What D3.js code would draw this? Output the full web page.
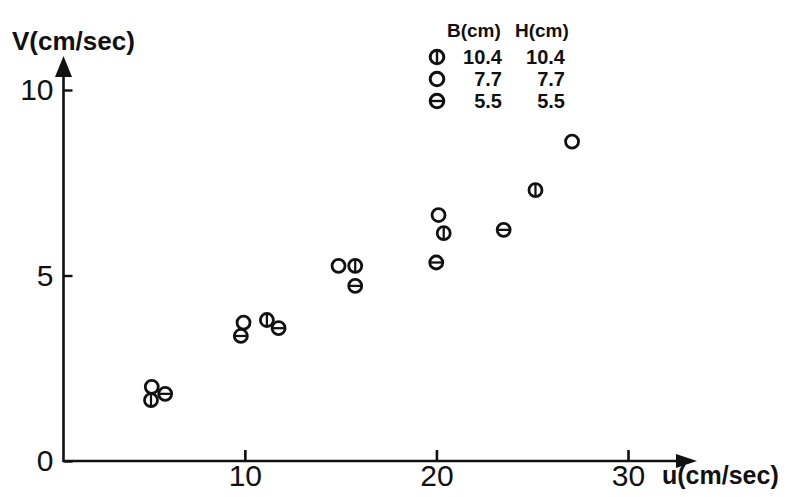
<!DOCTYPE html>
<html><head><meta charset="utf-8">
<script src="https://cdn.jsdelivr.net/npm/d3@7"></script>
<style>
body{margin:0;background:#fff;}
svg{display:block;}
</style></head>
<body>
<script>
// ---- data ----
const seriesNames = ["10.4", "7.7", "5.5"];          // B(cm) = H(cm)
const legendB = ["10.4", "7.7", "5.5"];
const legendH = ["10.4", "7.7", "5.5"];
const symbolTypes = ["vertical", "plain", "horizontal"];
const u104 = [5.10, 11.15, 15.76, 20.38, 25.17];
const v104 = [1.64, 3.80, 5.26, 6.14, 7.30];
const u77  = [5.14, 9.93, 14.89, 20.11, 27.08];
const v77  = [2.00, 3.73, 5.26, 6.63, 8.61];
const u55  = [5.84, 9.79, 11.76, 15.76, 19.99, 23.51];
const v55  = [1.81, 3.37, 3.58, 4.72, 5.35, 6.23];
const xTicks = [10, 20, 30];
const yTicks = [0, 5, 10];

const W = 787, H = 497;
const svg = d3.select("body").append("svg").attr("width", W).attr("height", H);

const x = d3.scaleLinear().domain([0, 30]).range([53.3, 628]);
const y = d3.scaleLinear().domain([0, 10]).range([461, 90]);
const axisX = 63.5;     // pixel position of vertical axis
const ink = "#111";

// axes
const gx = svg.append("g").attr("transform", `translate(0,${y(0)})`)
  .call(d3.axisBottom(x).tickValues(xTicks).tickSizeInner(-11).tickSizeOuter(0).tickPadding(4));
gx.select(".domain").remove();
gx.selectAll(".tick line").attr("stroke", ink).attr("stroke-width", 2.6);
gx.selectAll(".tick text").attr("fill", ink)
  .style("font-family", "'Liberation Sans Narrow','Liberation Sans',sans-serif").style("font-size", "30px");

const gy = svg.append("g").attr("transform", `translate(${axisX},0)`)
  .call(d3.axisLeft(y).tickValues(yTicks).tickSizeInner(-9).tickSizeOuter(0).tickPadding(10));
gy.select(".domain").remove();
gy.selectAll(".tick line").attr("stroke", ink).attr("stroke-width", 2.4);
gy.selectAll(".tick text").attr("fill", ink)
  .style("font-family", "'Liberation Sans Narrow','Liberation Sans',sans-serif").style("font-size", "30px");

// axis lines with arrows
svg.append("line").attr("x1", axisX).attr("x2", 680).attr("y1", y(0)).attr("y2", y(0))
  .attr("stroke", ink).attr("stroke-width", 2.6);
svg.append("path").attr("d", `M676,${y(0)-7} L697,${y(0)} L676,${y(0)+7} Z`).attr("fill", ink);
svg.append("line").attr("x1", axisX).attr("x2", axisX).attr("y1", y(0)+1).attr("y2", 74)
  .attr("stroke", ink).attr("stroke-width", 2.6);
svg.append("path").attr("d", `M${axisX-8.5},77 L${axisX},56 L${axisX+8.5},77 Z`).attr("fill", ink);

// axis titles
svg.append("text").attr("x", 12).attr("y", 50).text("V(cm/sec)")
  .attr("fill", ink).style("font-family", "'Liberation Sans',sans-serif")
  .style("font-size", "26px").style("font-weight", "bold");
svg.append("text").attr("x", 662).attr("y", 484).text("u(cm/sec)")
  .attr("fill", ink).style("font-family", "'Liberation Sans',sans-serif")
  .style("font-size", "25px").style("font-weight", "bold");

// symbols
function drawSymbol(g, cx, cy, type, r, sw) {
  g.append("circle").attr("cx", cx).attr("cy", cy).attr("r", r)
    .attr("fill", "none").attr("stroke", ink).attr("stroke-width", sw);
  if (type === "vertical")
    g.append("line").attr("x1", cx).attr("x2", cx).attr("y1", cy - r).attr("y2", cy + r)
      .attr("stroke", ink).attr("stroke-width", sw * 0.8);
  if (type === "horizontal")
    g.append("line").attr("x1", cx - r).attr("x2", cx + r).attr("y1", cy).attr("y2", cy)
      .attr("stroke", ink).attr("stroke-width", sw * 0.8);
}

const series = [
  { u: u104, v: v104, type: symbolTypes[0] },
  { u: u77,  v: v77,  type: symbolTypes[1] },
  { u: u55,  v: v55,  type: symbolTypes[2] }
];
const gp = svg.append("g");
series.forEach(s => s.u.forEach((uu, i) => drawSymbol(gp, x(uu), y(s.v[i]), s.type, 6.5, 2.8)));

// legend
const lg = svg.append("g");
lg.append("text").attr("x", 447).attr("y", 37).text("B(cm)")
  .attr("fill", ink).style("font-family", "'Liberation Sans',sans-serif").style("font-size", "19px").style("font-weight", "bold");
lg.append("text").attr("x", 515).attr("y", 37).text("H(cm)")
  .attr("fill", ink).style("font-family", "'Liberation Sans',sans-serif").style("font-size", "19px").style("font-weight", "bold");
const rowSym = [57, 79, 101];
const rowBase = [64, 86, 108];
seriesNames.forEach((n, i) => {
  drawSymbol(lg, 437, rowSym[i], symbolTypes[i], 6.8, 3);
  lg.append("text").attr("x", 502).attr("y", rowBase[i]).attr("text-anchor", "end").text(legendB[i])
    .attr("fill", ink).style("font-family", "'Liberation Sans',sans-serif").style("font-size", "20px").style("font-weight", "bold");
  lg.append("text").attr("x", 565).attr("y", rowBase[i]).attr("text-anchor", "end").text(legendH[i])
    .attr("fill", ink).style("font-family", "'Liberation Sans',sans-serif").style("font-size", "20px").style("font-weight", "bold");
});
</script>
</body></html>
